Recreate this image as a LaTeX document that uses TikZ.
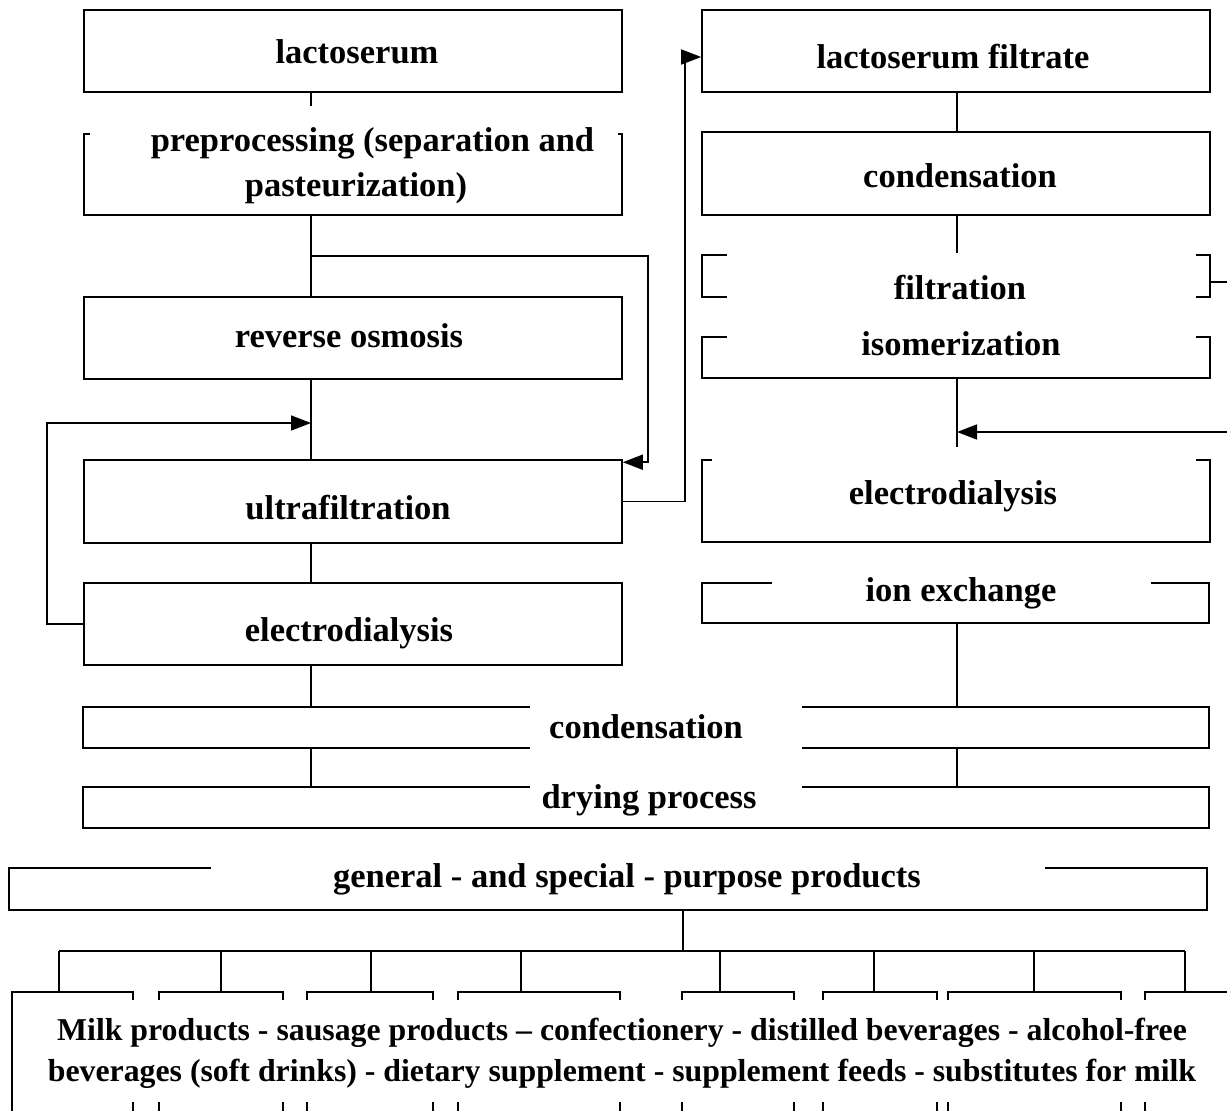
\documentclass[tikz,border=0pt]{standalone}
\usepackage{fontspec}
\setmainfont{Liberation Serif}
\usetikzlibrary{arrows.meta,fit}
\tikzset{
  stage/.style={draw, line width=0.8pt, inner sep=0pt},
  lbl/.style={font=\fontsize{17.25}{21.5}\selectfont\bfseries, inner sep=0pt, align=center},
  arr/.style={-{Triangle[length=10pt,width=7.5pt]}},
}
\begin{document}
\begin{tikzpicture}[x=0.5pt, y=-0.5pt, line width=0.8pt]
  \clip (0,0) rectangle (1227,1110);
  \fill[white] (0,0) rectangle (1227,1110);
  % left column
  \node[stage, fit={(84,10) (622,92)}] (lacto) {};
  \node[stage, fit={(84,134) (622,215)}] (pre) {};
  \node[stage, fit={(84,297) (622,379)}] (ro) {};
  \node[stage, fit={(84,460) (622,543)}] (uf) {};
  \node[stage, fit={(84,583) (622,665)}] (edL) {};
  % right column
  \node[stage, fit={(702,10) (1210,92)}] (filtrate) {};
  \node[stage, fit={(702,132) (1210,215)}] (condR) {};
  \node[stage, fit={(702,255) (1210,297)}] (filtr) {};
  \node[stage, fit={(702,337) (1210,378)}] (iso) {};
  \node[stage, fit={(702,460) (1210,542)}] (edR) {};
  \node[stage, fit={(702,583) (1209,623)}] (ion) {};
  % common part
  \node[stage, fit={(83,707) (1209,748)}] (cond) {};
  \node[stage, fit={(83,787) (1209,828)}] (dry) {};
  \node[stage, fit={(9,868) (1207,910)}] (gen) {};

  \coordinate (lx) at (311,0);
  \coordinate (rx) at (957,0);
  \coordinate (split) at (311,256);
  \coordinate (fbin) at (311,423);
  \coordinate (loopA) at (1240,282);
  \coordinate (loopB) at (1240,432);
  \coordinate (bus) at (683,951);

  % connectors, left
  \draw (lacto.south -| lx) -- (pre.north -| lx);
  \draw (pre.south -| lx) -- (ro.north -| lx);
  \draw[arr] (split) -| ([xshift=12.5pt,yshift=-1.5pt]uf.north east) -- ([yshift=-1.5pt]uf.north east);
  \draw (ro.south -| lx) -- (uf.north -| lx);
  \draw[arr] (edL.west) -- ++(-36,0) |- (fbin);
  \draw (uf.south -| lx) -- (edL.north -| lx);
  \draw[arr] (uf.east) -- ++(62,0) |- ([yshift=-3pt]filtrate.west);
  \draw (edL.south -| lx) -- (cond.north -| lx);
  % connectors, right
  \draw (filtrate.south -| rx) -- (condR.north -| rx);
  \draw (condR.south -| rx) -- (filtr.north -| rx);
  \draw (loopA) -- (filtr.east |- loopA);
  \draw (iso.south -| rx) -- (edR.north -| rx);
  \draw[arr] (loopB) -- (rx |- loopB);
  \draw (ion.south -| rx) -- (cond.north -| rx);
  % connectors, bottom
  \draw (cond.south -| lx) -- (dry.north -| lx);
  \draw (cond.south -| rx) -- (dry.north -| rx);
  \draw (gen.south -| bus) -- (bus);
  \draw (bus -| 59,0) -- (bus -| 1185,0);
  \foreach \l/\r/\d [count=\i] in {12/133/59, 159/283/221, 307/433/371, 458/620/521,
      682/794/720, 823/937/874, 948/1121/1034, 1145/1300/1185} {
    \node[stage, fit={(\l,992) (\r,1140)}] (p\i) {};
    \draw (bus -| \d,0) -- (p\i.north -| \d,0);
  }

  % gaps behind the texts
  \fill[white] (90,106) rectangle (618,140);
  \fill[white] (727,253) rectangle (1196,341);
  \fill[white] (712,447) rectangle (1196,470);
  \fill[white] (772,545) rectangle (1151,590);
  \fill[white] (530,700) rectangle (802,791);
  \fill[white] (211,860) rectangle (1045,875);
  \fill[white] (14,1000) rectangle (1227,1102);

  % texts
  \node[lbl] (tLacto) at (357,52) {lactoserum};
  \node[lbl] (tPre) at (364,166) {\hspace*{8.5pt}preprocessing (separation and\\[1pt]pasteurization)\hspace*{8pt}};
  \node[lbl] (tRo) at (349,336) {reverse osmosis};
  \node[lbl] (tUf) at (348,508) {ultrafiltration};
  \node[lbl] (tEdL) at (349,633) {electrodialysis};
  \node[lbl] (tFiltrate) at (953,57) {lactoserum filtrate};
  \node[lbl] (tCondR) at (960,176) {condensation};
  \node[lbl] (tFiltr) at (960,288) {filtration};
  \node[lbl] (tIso) at (961,344) {isomerization};
  \node[lbl] (tEdR) at (953,496) {electrodialysis};
  \node[lbl] (tIon) at (961,593) {ion exchange};
  \node[lbl] (tCond) at (646,727) {condensation};
  \node[lbl] (tDry) at (649,800) {drying process};
  \node[lbl] (tGen) at (627,879) {general - and special - purpose products};
  \node[lbl, font=\fontsize{15.9}{20.5}\selectfont\bfseries] (tProd) at (622,1053) {Milk products - sausage products – confectionery - distilled beverages - alcohol-free\\beverages (soft drinks) - dietary supplement - supplement feeds - substitutes for milk};
\end{tikzpicture}
\end{document}
